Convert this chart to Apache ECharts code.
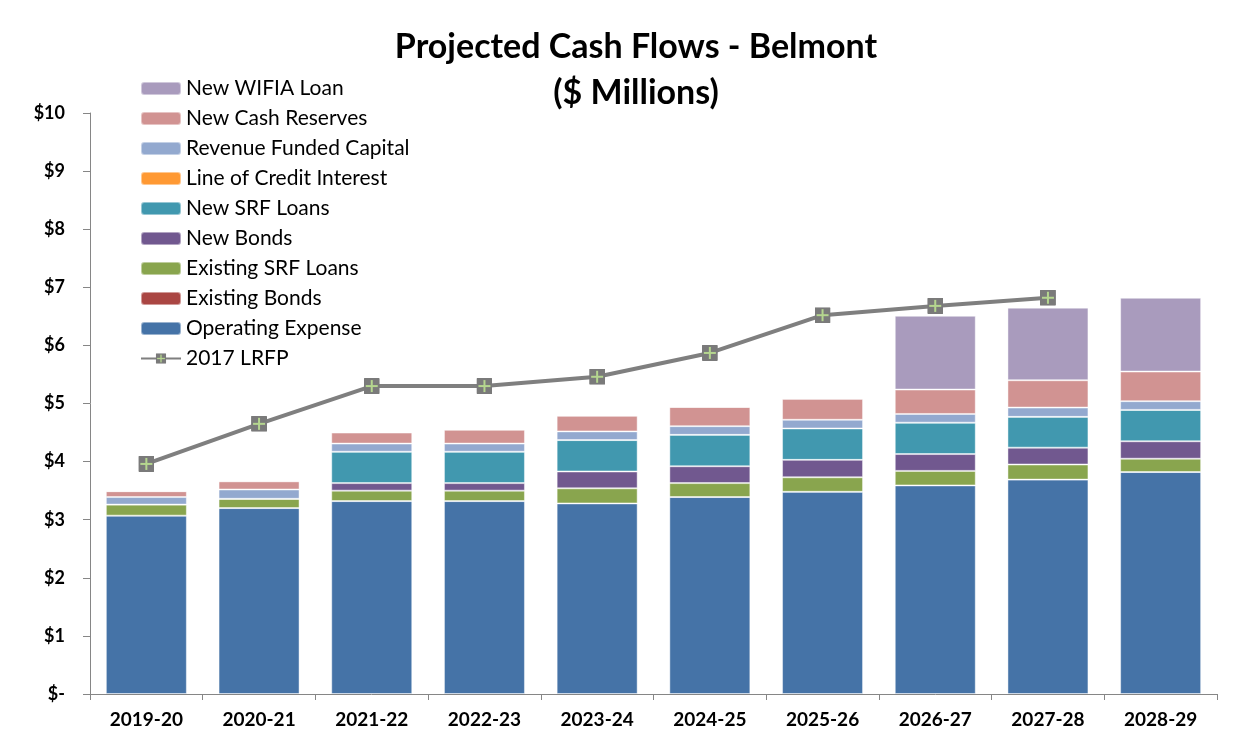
<!DOCTYPE html>
<html><head><meta charset="utf-8">
<script src="https://cdn.jsdelivr.net/npm/echarts@6/dist/echarts.min.js"></script>
<style>html,body{margin:0;padding:0;background:#fff}#c{width:1250px;height:740px}</style>
</head><body><div id="c"></div>
<script>
const categories = ['2019-20','2020-21','2021-22','2022-23','2023-24','2024-25','2025-26','2026-27','2027-28','2028-29'];
const operatingExpense = [3.07,3.20,3.32,3.32,3.28,3.39,3.48,3.59,3.69,3.82];
const existingBonds    = [0,0,0,0,0,0,0,0,0,0];
const existingSRF      = [0.19,0.16,0.18,0.18,0.26,0.24,0.25,0.25,0.26,0.23];
const newBonds         = [0,0,0.13,0.13,0.29,0.29,0.30,0.29,0.29,0.30];
const newSRF           = [0,0,0.54,0.54,0.54,0.54,0.54,0.54,0.53,0.54];
const lineOfCredit     = [0,0,0,0,0,0,0,0,0,0];
const revenueCapital   = [0.13,0.16,0.14,0.14,0.15,0.15,0.15,0.15,0.16,0.15];
const cashReserves     = [0.10,0.14,0.19,0.24,0.27,0.33,0.36,0.42,0.47,0.51];
const wifiaLoan        = [0,0,0,0,0,0,0,1.27,1.25,1.27];
const lrfp2017         = [3.96,4.65,5.30,5.30,5.46,5.87,6.52,6.68,6.82,null];
const yTicks = ['$-','$1','$2','$3','$4','$5','$6','$7','$8','$9','$10'];

const marker = 'image://data:image/svg+xml;utf8,' + encodeURIComponent(
  '<svg xmlns="http://www.w3.org/2000/svg" width="16" height="16"><rect x="0" y="0" width="16" height="16" rx="1" fill="#7a7a7a"/><rect x="7" y="2" width="2" height="12" fill="#b5d68f"/><rect x="2" y="7" width="12" height="2" fill="#b5d68f"/></svg>');

const font = 'Lato, "Open Sans", sans-serif';
function bar(name, data, color) {
  return {name, type:'bar', stack:'a', data, barWidth:81,
    itemStyle:{color, borderColor:'rgba(255,255,255,0.45)', borderWidth:1}};
}
const chart = echarts.init(document.getElementById('c'));
chart.setOption({
  animation:false,
  textStyle:{fontFamily:font},
  title:{text:'Projected Cash Flows - Belmont\n($ Millions)', left:631, top:19, textAlign:'center',
    textStyle:{fontFamily:font, fontSize:34, fontWeight:'bold', color:'#000', lineHeight:46}},
  grid:{left:90, right:33, top:113, bottom:46},
  legend:{orient:'vertical', left:135, top:73, itemWidth:40, itemHeight:13, itemGap:9,
    textStyle:{fontFamily:font, fontSize:21, color:'#000', lineHeight:21},
    data:['New WIFIA Loan','New Cash Reserves','Revenue Funded Capital','Line of Credit Interest','New SRF Loans','New Bonds','Existing SRF Loans','Existing Bonds','Operating Expense','2017 LRFP']},
  xAxis:{type:'category', data:categories,
    axisLine:{lineStyle:{color:'#868686', width:1}},
    axisTick:{show:true, length:6, lineStyle:{color:'#868686'}},
    axisLabel:{fontFamily:font, fontSize:19, fontWeight:'bold', color:'#000', margin:16}},
  yAxis:{type:'value', min:0, max:10, interval:1,
    axisLine:{show:true, lineStyle:{color:'#868686'}},
    axisTick:{show:true, length:7, lineStyle:{color:'#868686'}},
    splitLine:{show:false},
    axisLabel:{fontFamily:font, fontSize:18, fontWeight:'bold', color:'#000', margin:25,
      formatter:v=>yTicks[Math.round(v)]}},
  series:[
    bar('Operating Expense', operatingExpense, '#4573A7'),
    bar('Existing Bonds', existingBonds, '#AA4643'),
    bar('Existing SRF Loans', existingSRF, '#89A54E'),
    bar('New Bonds', newBonds, '#71588F'),
    bar('New SRF Loans', newSRF, '#4198AF'),
    bar('Line of Credit Interest', lineOfCredit, '#FF9933'),
    bar('Revenue Funded Capital', revenueCapital, '#93A9CF'),
    bar('New Cash Reserves', cashReserves, '#D19392'),
    bar('New WIFIA Loan', wifiaLoan, '#A99BBD'),
    {name:'2017 LRFP', type:'line', data:lrfp2017, symbol:marker, symbolSize:16,
      lineStyle:{color:'#7f7f7f', width:4}, itemStyle:{color:'#7f7f7f'}, z:5}
  ]
});
</script></body></html>
